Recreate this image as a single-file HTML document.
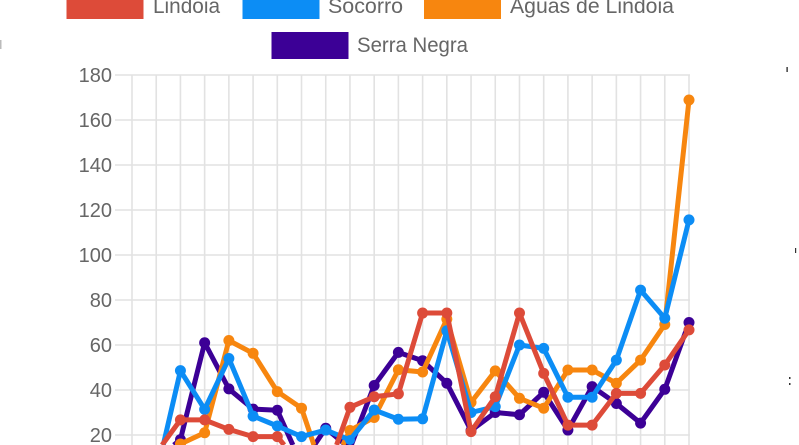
<!DOCTYPE html>
<html>
<head>
<meta charset="utf-8">
<style>
html,body{margin:0;padding:0;background:#fff;width:799px;height:445px;overflow:hidden;}
svg{display:block;}
text{font-family:"Liberation Sans",Arial,sans-serif;fill:#666;}
</style>
</head>
<body>
<svg width="799" height="445" viewBox="0 0 799 445" xmlns="http://www.w3.org/2000/svg">
<rect width="799" height="445" fill="#fff"/>
<!-- legend -->
<rect x="66.5" y="0" width="77" height="19" fill="#dd4b39"/>
<text x="153" y="13" font-size="21" textLength="67" lengthAdjust="spacingAndGlyphs">Lindoia</text>
<rect x="242.5" y="0" width="77" height="19" fill="#0c8df5"/>
<text x="328" y="13" font-size="21" textLength="75" lengthAdjust="spacingAndGlyphs">Socorro</text>
<rect x="424" y="0" width="77" height="19" fill="#f7860f"/>
<text x="510" y="13" font-size="21" textLength="164" lengthAdjust="spacingAndGlyphs">Águas de Lindoia</text>
<rect x="271.5" y="32" width="77" height="27" fill="#3c0096"/>
<text x="357" y="52" font-size="21" textLength="111" lengthAdjust="spacingAndGlyphs">Serra Negra</text>

<!-- grid -->
<g stroke="#e2e2e2" stroke-width="1.6">
<line x1="115" y1="75" x2="690" y2="75"/>
<line x1="115" y1="120" x2="690" y2="120"/>
<line x1="115" y1="165" x2="690" y2="165"/>
<line x1="115" y1="210" x2="690" y2="210"/>
<line x1="115" y1="255" x2="690" y2="255"/>
<line x1="115" y1="300" x2="690" y2="300"/>
<line x1="115" y1="345" x2="690" y2="345"/>
<line x1="115" y1="390" x2="690" y2="390"/>
<line x1="115" y1="435" x2="690" y2="435"/>
<line x1="132" y1="75" x2="132" y2="445"/>
<line x1="156.22" y1="75" x2="156.22" y2="445"/>
<line x1="180.43" y1="75" x2="180.43" y2="445"/>
<line x1="204.65" y1="75" x2="204.65" y2="445"/>
<line x1="228.87" y1="75" x2="228.87" y2="445"/>
<line x1="253.09" y1="75" x2="253.09" y2="445"/>
<line x1="277.30" y1="75" x2="277.30" y2="445"/>
<line x1="301.52" y1="75" x2="301.52" y2="445"/>
<line x1="325.74" y1="75" x2="325.74" y2="445"/>
<line x1="349.96" y1="75" x2="349.96" y2="445"/>
<line x1="374.17" y1="75" x2="374.17" y2="445"/>
<line x1="398.39" y1="75" x2="398.39" y2="445"/>
<line x1="422.61" y1="75" x2="422.61" y2="445"/>
<line x1="446.83" y1="75" x2="446.83" y2="445"/>
<line x1="471.04" y1="75" x2="471.04" y2="445"/>
<line x1="495.26" y1="75" x2="495.26" y2="445"/>
<line x1="519.48" y1="75" x2="519.48" y2="445"/>
<line x1="543.70" y1="75" x2="543.70" y2="445"/>
<line x1="567.91" y1="75" x2="567.91" y2="445"/>
<line x1="592.13" y1="75" x2="592.13" y2="445"/>
<line x1="616.35" y1="75" x2="616.35" y2="445"/>
<line x1="640.57" y1="75" x2="640.57" y2="445"/>
<line x1="664.78" y1="75" x2="664.78" y2="445"/>
<line x1="689" y1="75" x2="689" y2="445"/>
</g>

<!-- y labels -->
<g font-size="20" text-anchor="end">
<text x="112" y="82">180</text>
<text x="112" y="127">160</text>
<text x="112" y="172">140</text>
<text x="112" y="217">120</text>
<text x="112" y="262">100</text>
<text x="112" y="307">80</text>
<text x="112" y="352">60</text>
<text x="112" y="397">40</text>
<text x="112" y="442">20</text>
</g>

<!-- Serra Negra (bottom) -->
<g fill="#3c0096" stroke="none">
<polyline fill="none" stroke="#3c0096" stroke-width="5" stroke-linejoin="round" points="173.85,445 180.43,439.5 204.65,342.75 228.87,388.9 253.09,409.1 277.30,410.25 292.88,445"/>
<polyline fill="none" stroke="#3c0096" stroke-width="5" stroke-linejoin="round" points="314.47,445 325.74,428.25 345.77,445 351.31,445 374.17,385.5 398.39,352.4 422.61,360.75 446.83,383.25 471.04,430.5 495.26,412.5 519.48,414.75 543.70,392.25 567.91,430.05 592.13,386.6 616.35,403.5 640.57,423.1 664.78,389.3 689,322.5"/>
<circle cx="180.43" cy="439.5" r="5.4"/><circle cx="204.65" cy="342.75" r="5.5"/><circle cx="228.87" cy="388.9" r="5.5"/><circle cx="253.09" cy="409.1" r="5.5"/><circle cx="277.30" cy="410.25" r="5.5"/><circle cx="325.74" cy="428.25" r="5.5"/><circle cx="374.17" cy="385.5" r="5.5"/><circle cx="398.39" cy="352.4" r="5.5"/><circle cx="422.61" cy="360.75" r="5.5"/><circle cx="446.83" cy="383.25" r="5.5"/><circle cx="471.04" cy="430.5" r="5.5"/><circle cx="495.26" cy="412.5" r="5.5"/><circle cx="519.48" cy="414.75" r="5.5"/><circle cx="543.70" cy="392.25" r="5.5"/><circle cx="567.91" cy="430.05" r="5.5"/><circle cx="592.13" cy="386.6" r="5.5"/><circle cx="616.35" cy="403.5" r="5.5"/><circle cx="640.57" cy="423.1" r="5.5"/><circle cx="664.78" cy="389.3" r="5.5"/><circle cx="689" cy="322.5" r="5.5"/>
</g>

<!-- Aguas de Lindoia -->
<g fill="#f7860f" stroke="none">
<polyline fill="none" stroke="#f7860f" stroke-width="5" stroke-linejoin="round" points="179.76,445 180.43,444 204.65,432.75 228.87,340.5 253.09,353.3 277.30,391.6 301.52,408.2 313.93,445"/>
<polyline fill="none" stroke="#f7860f" stroke-width="5" stroke-linejoin="round" points="342.87,445 349.96,430.5 374.17,417.45 398.39,369.75 422.61,372 446.83,319.1 471.04,402.4 495.26,370.9 519.48,398.3 543.70,408.2 567.91,370 592.13,370 616.35,383.25 640.57,360.1 664.78,324.5 689,100"/>
<path d="M175.02,445 A5.5,5.5 0 1 1 185.84,445 Z"/>
<circle cx="204.65" cy="432.75" r="5.5"/><circle cx="228.87" cy="340.5" r="5.5"/><circle cx="253.09" cy="353.3" r="5.5"/><circle cx="277.30" cy="391.6" r="5.5"/><circle cx="301.52" cy="408.2" r="5.5"/><circle cx="349.96" cy="430.5" r="5.5"/><circle cx="374.17" cy="417.45" r="5.5"/><circle cx="398.39" cy="369.75" r="5.5"/><circle cx="422.61" cy="372" r="5.5"/><circle cx="446.83" cy="319.1" r="5.5"/><circle cx="471.04" cy="402.4" r="5.5"/><circle cx="495.26" cy="370.9" r="5.5"/><circle cx="519.48" cy="398.3" r="5.5"/><circle cx="543.70" cy="408.2" r="5.5"/><circle cx="567.91" cy="370" r="5.5"/><circle cx="592.13" cy="370" r="5.5"/><circle cx="616.35" cy="383.25" r="5.5"/><circle cx="640.57" cy="360.1" r="5.5"/><circle cx="664.78" cy="324.5" r="5.5"/><circle cx="689" cy="100" r="5.5"/>
</g>

<!-- Socorro -->
<g fill="#0c8df5" stroke="none">
<polyline fill="none" stroke="#0c8df5" stroke-width="5" stroke-linejoin="round" points="163.26,445 180.43,370.65 204.65,409.35 228.87,358.5 253.09,416.1 277.30,426 301.52,436.6 325.74,430.05 349.96,439.95 374.17,410 398.39,419.25 422.61,418.8 446.83,330.8 471.04,412.5 495.26,406.65 519.48,345 543.70,348.4 567.91,397.2 592.13,397.2 616.35,360.1 640.57,290.1 664.78,318.2 689,219.9"/>
<circle cx="180.43" cy="370.65" r="5.5"/><circle cx="204.65" cy="409.35" r="5.5"/><circle cx="228.87" cy="358.5" r="5.5"/><circle cx="253.09" cy="416.1" r="5.5"/><circle cx="277.30" cy="426" r="5.5"/><circle cx="301.52" cy="436.6" r="5.5"/><circle cx="325.74" cy="430.05" r="5.5"/><circle cx="349.96" cy="439.95" r="5"/><circle cx="374.17" cy="410" r="5.5"/><circle cx="398.39" cy="419.25" r="5.5"/><circle cx="422.61" cy="418.8" r="5.5"/><circle cx="446.83" cy="330.8" r="5.5"/><circle cx="471.04" cy="412.5" r="5.5"/><circle cx="495.26" cy="406.65" r="5.5"/><circle cx="519.48" cy="345" r="5.5"/><circle cx="543.70" cy="348.4" r="5.5"/><circle cx="567.91" cy="397.2" r="5.5"/><circle cx="592.13" cy="397.2" r="5.5"/><circle cx="616.35" cy="360.1" r="5.5"/><circle cx="640.57" cy="290.1" r="5.5"/><circle cx="664.78" cy="318.2" r="5.5"/><circle cx="689" cy="219.9" r="5.5"/>
</g>

<!-- Lindoia (top) -->
<g fill="#dd4b39" stroke="none">
<polyline fill="none" stroke="#dd4b39" stroke-width="5" stroke-linejoin="round" points="162.07,445 180.43,419.9 204.65,419.9 228.87,429.4 253.09,436.6 277.30,436.6 284.10,445"/>
<polyline fill="none" stroke="#dd4b39" stroke-width="5" stroke-linejoin="round" points="336.57,445 349.96,407.3 374.17,396.75 398.39,393.8 422.61,313.05 446.83,313.05 471.04,431.6 495.26,396.75 519.48,313.05 543.70,373.35 567.91,425.1 592.13,425.1 616.35,393.4 640.57,393.4 664.78,365 689,329.9"/>
<circle cx="180.43" cy="419.9" r="5.5"/><circle cx="204.65" cy="419.9" r="5.5"/><circle cx="228.87" cy="429.4" r="5.5"/><circle cx="253.09" cy="436.6" r="5.5"/><circle cx="277.30" cy="436.6" r="5.5"/><circle cx="349.96" cy="407.3" r="5.5"/><circle cx="374.17" cy="396.75" r="5.5"/><circle cx="398.39" cy="393.8" r="5.5"/><circle cx="422.61" cy="313.05" r="5.5"/><circle cx="446.83" cy="313.05" r="5.5"/><circle cx="471.04" cy="431.6" r="5.5"/><circle cx="495.26" cy="396.75" r="5.5"/><circle cx="519.48" cy="313.05" r="5.5"/><circle cx="543.70" cy="373.35" r="5.5"/><circle cx="567.91" cy="425.1" r="5.5"/><circle cx="592.13" cy="425.1" r="5.5"/><circle cx="616.35" cy="393.4" r="5.5"/><circle cx="640.57" cy="393.4" r="5.5"/><circle cx="664.78" cy="365" r="5.5"/><circle cx="689" cy="329.9" r="5.5"/>
</g>

<!-- stray marks -->
<rect x="786.5" y="67" width="1.2" height="5" fill="#111"/>
<rect x="795" y="248" width="1.2" height="5" fill="#333"/>
<rect x="789" y="377" width="1.5" height="2" fill="#333"/>
<rect x="789" y="383" width="1.5" height="2" fill="#333"/>
<rect x="0" y="40" width="1.5" height="9" fill="#bbb"/>
</svg>
</body>
</html>
